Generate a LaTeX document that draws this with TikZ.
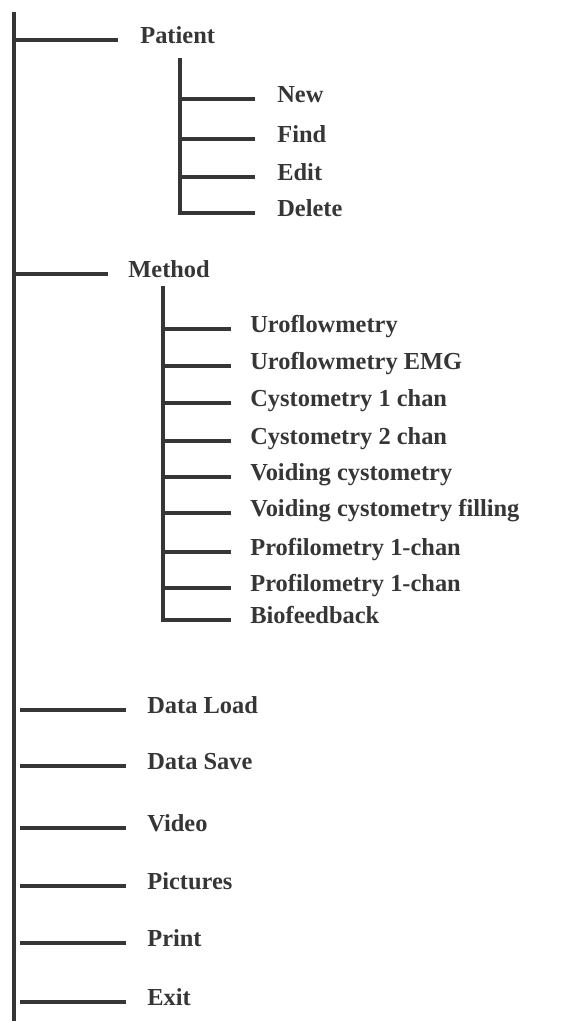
\documentclass[tikz,border=0pt]{standalone}
\usepackage{fontspec}
\setmainfont{Liberation Serif}
\usetikzlibrary{positioning}

\definecolor{ink}{HTML}{363636}
\tikzset{
  menu/.style={anchor=west, inner sep=0pt, text height=9pt, text depth=4.5pt,
    font=\fontsize{13.9}{16}\selectfont\bfseries, text=ink},
  wire/.style={draw=ink, line width=1.9pt},
}

\begin{document}
\begin{tikzpicture}[x=0.02cm, y=-0.02cm]
  \useasboundingbox (0,0) rectangle (584,1021);

  % main trunk
  \coordinate (top) at (14,12);
  \coordinate (bottom) at (14,1021);
  \draw[wire] (top) -- (bottom);

  % Patient submenu
  \node[menu] (patient) at (140,40) {Patient};
  \draw[wire] (patient.west) ++(-22,0) -- (top |- patient.west);
  \coordinate (ptop) at (180,58);
  \foreach \name/\txt/\y in {new/New/99, find/Find/139, edit/Edit/177, delete/Delete/213}
    \node[menu] (\name) at (277,\y) {\txt};
  \foreach \name in {new, find, edit}
    \draw[wire] (\name.west) ++(-22,0) -- (ptop |- \name.west);
  \draw[wire] (ptop) -- (ptop |- delete.west) -- ++(75,0);

  % Method submenu
  \node[menu] (method) at (128,274) {Method};
  \draw[wire] (method.west) ++(-20,0) -- (top |- method.west);
  \coordinate (mtop) at (163,286);
  \foreach \name/\txt/\y in {
      uro/Uroflowmetry/329,
      uroemg/Uroflowmetry EMG/366,
      cysta/Cystometry 1 chan/403,
      cystb/Cystometry 2 chan/441,
      void/Voiding cystometry/477,
      voidfill/Voiding cystometry filling/513,
      profa/Profilometry 1-chan/552,
      profb/Profilometry 1-chan/588,
      bio/Biofeedback/620}
    \node[menu] (\name) at (250,\y) {\txt};
  \foreach \name in {uro, uroemg, cysta, cystb, void, voidfill, profa, profb}
    \draw[wire] (\name.west) ++(-19,0) -- (mtop |- \name.west);
  \draw[wire] (mtop) -- (mtop |- bio.west) -- ++(68,0);

  % remaining top-level entries
  \foreach \name/\txt/\y in {load/Data Load/710, save/Data Save/766, video/Video/828,
      pics/Pictures/886, print/Print/943, exit/Exit/1002} {
    \node[menu] (\name) at (147,\y) {\txt};
    \draw[wire] (\name.west) ++(-21,0) -- ([xshift=3.4pt]top |- \name.west);
  }
\end{tikzpicture}
\end{document}
